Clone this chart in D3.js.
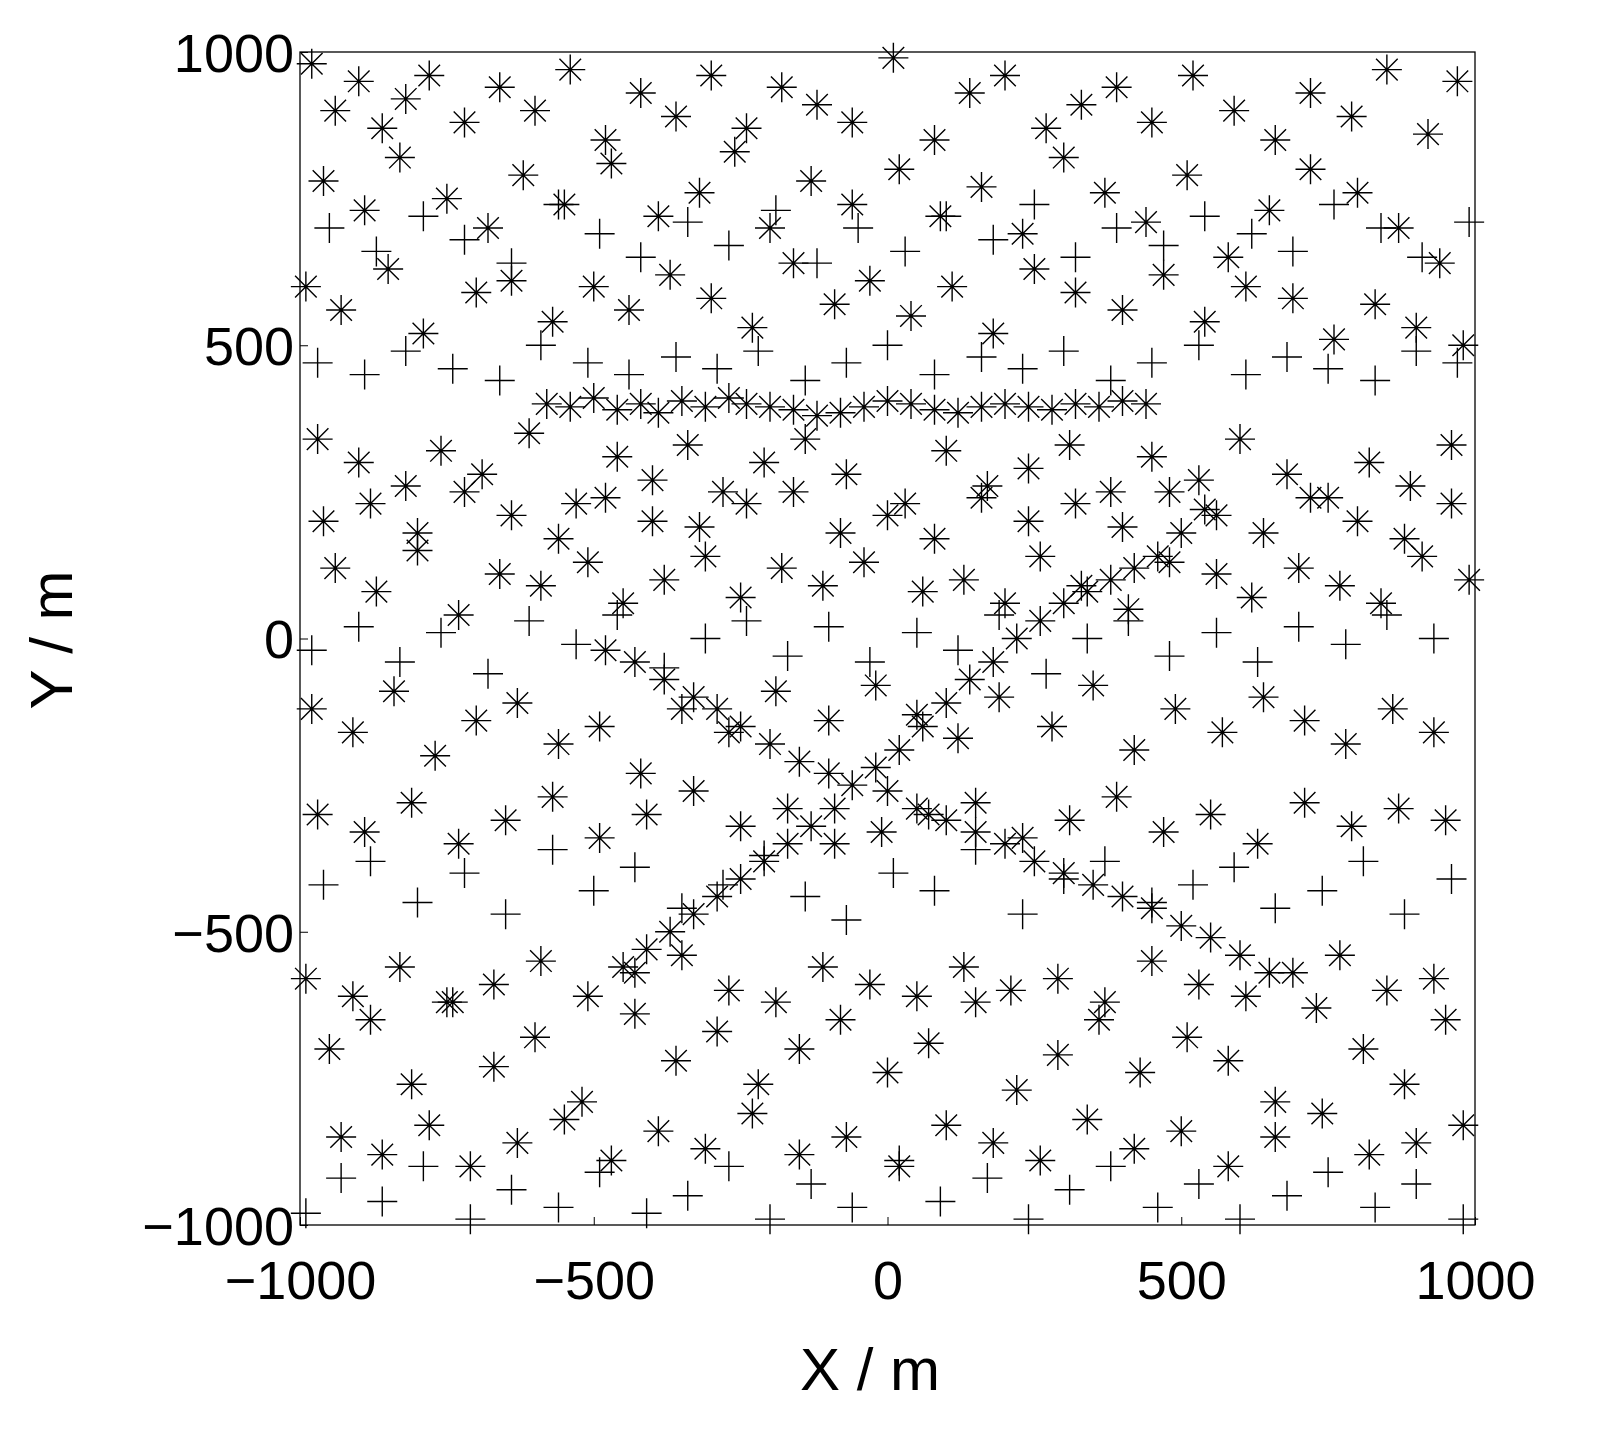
<!DOCTYPE html>
<html><head><meta charset="utf-8">
<script src="https://cdn.jsdelivr.net/npm/d3@7"></script>
<style>body{margin:0;background:#fff}text{font-family:"Liberation Sans",Arial,sans-serif;fill:#000}</style>
</head><body><svg id="c" width="1603" height="1451"></svg>
<script>
// asterisk markers (x, y in metres)
var starX = [-580,-540,-500,-460,-420,-390,-350,-310,-270,-240,-200,-160,-120,-80,-40,0,40,80,120,160,200,240,280,320,360,400,440,
  -480,-430,-380,-330,-290,-250,-200,-150,-100,-60,
  -20,20,60,100,140,180,220,260,300,340,380,420,460,500,540,
  -450,-410,-370,-330,-290,-250,-210,-170,-130,-90,
  0,50,100,150,200,250,300,350,400,450,500,550,600,650,
  -980,-940,-900,-860,-820,-780,-720,-660,-600,-540,-480,-420,-360,-300,-240,-180,-120,-60,10,80,140,200,270,330,390,450,520,590,660,720,790,850,920,970,
  -960,-890,-830,-750,-680,-620,-550,-470,-390,-320,-260,-200,-130,-60,20,90,160,230,300,370,440,510,580,650,720,800,870,940,
  -990,-930,-850,-790,-700,-640,-570,-500,-440,-370,-300,-230,-160,-90,-30,40,110,180,250,320,400,470,540,610,690,760,830,900,980,
  -970,-900,-820,-760,-690,-610,-530,-460,-400,-340,-280,-210,-140,-70,30,100,170,240,310,380,450,530,600,680,750,820,890,960,
  -940,-870,-800,-730,-660,-590,-510,-450,-380,-310,-250,-180,-110,-40,60,130,200,260,330,410,480,560,620,700,770,840,910,990,
  -980,-910,-840,-770,-700,-630,-560,-490,-420,-350,-270,-190,-100,-20,50,120,190,280,350,420,490,570,640,710,780,860,930,
  -950,-880,-810,-740,-670,-600,-520,-430,-360,-290,-220,-150,-80,0,70,150,220,290,360,430,510,580,660,730,810,880,950,
  -930,-860,-780,-710,-630,-550,-470,-390,-310,-230,-150,-70,20,100,180,260,340,420,500,580,660,740,820,900,980,
  -990,-910,-830,-750,-670,-590,-510,-430,-350,-270,-190,-110,-30,50,130,210,290,370,450,530,610,690,770,850,930,
  -960,-880,-800,-720,-640,-560,-480,-400,-320,-240,-160,-80,0,80,160,240,320,400,480,560,640,720,800,880,960,
  -970,-890,-810,-730,-650,-570,-490,-410,-330,-250,-170,-90,-10,70,150,230,310,390,470,550,630,710,790,870,950],
  starY = [400,395,410,390,400,385,405,395,410,400,395,390,380,385,395,405,400,390,385,395,400,395,390,400,395,405,400,
  -20,-40,-70,-100,-120,-150,-180,-210,-230,-250,
  -220,-190,-150,-110,-70,-40,0,30,60,80,100,120,140,180,220,
  -560,-530,-500,-470,-440,-410,-380,-350,-320,-290,
  -260,-290,-310,-330,-350,-380,-400,-420,-440,-460,-490,-510,-540,-570,
  980,900,950,870,920,960,880,940,900,970,850,930,890,960,870,940,910,880,990,850,930,960,870,910,940,880,960,900,850,930,890,970,860,950,
  780,730,820,750,700,790,740,810,720,760,830,700,780,740,800,720,770,690,820,760,710,790,650,730,800,760,700,640,
  600,560,630,520,590,610,540,600,560,620,580,530,640,570,610,550,600,520,630,590,560,620,540,600,580,510,570,530,500,
  340,300,260,320,280,350,230,310,270,330,250,300,340,280,230,320,260,290,330,250,310,270,340,280,240,300,260,330,
  120,80,150,40,110,90,130,60,100,140,70,120,90,130,80,100,60,140,90,50,130,110,70,120,90,60,140,100,
  -120,-160,-90,-200,-140,-110,-180,-150,-230,-120,-160,-90,-140,-80,-130,-170,-100,-150,-80,-190,-120,-160,-100,-140,-180,-120,-160,
  -700,-650,-760,-620,-730,-680,-790,-640,-720,-670,-760,-700,-650,-740,-690,-620,-770,-710,-650,-740,-680,-720,-790,-630,-700,-760,-650,
  -850,-880,-830,-900,-860,-820,-890,-840,-870,-810,-880,-850,-900,-830,-860,-890,-820,-870,-840,-900,-850,-810,-880,-860,-830,
  -580,-610,-560,-620,-590,-550,-610,-570,-540,-600,-620,-560,-590,-610,-560,-600,-580,-620,-550,-590,-610,-570,-540,-600,-580,
  200,230,180,250,210,170,240,200,190,230,250,180,210,170,240,200,230,190,250,210,180,240,200,170,230,
  -300,-330,-280,-350,-310,-270,-340,-300,-260,-320,-290,-350,-330,-300,-280,-340,-310,-270,-330,-300,-350,-280,-320,-290,-310],
  // plus markers
  plusX = [-990,-930,-860,-790,-710,-640,-560,-490,-410,-340,-270,-200,-130,-60,20,90,170,240,310,380,460,530,600,680,750,830,900,980,
  -960,-880,-800,-720,-650,-570,-500,-430,-350,-280,-210,-140,-70,10,80,150,230,300,370,450,520,590,660,740,810,880,960,
  -980,-900,-830,-760,-680,-610,-530,-460,-380,-310,-240,-170,-100,-30,50,120,190,270,340,410,480,560,630,700,780,850,930,
  -950,-870,-790,-720,-640,-560,-490,-420,-340,-270,-190,-120,-50,30,100,180,250,320,390,470,540,620,690,760,840,910,990,
  -970,-890,-820,-740,-660,-590,-510,-440,-360,-290,-220,-140,-70,0,80,160,230,300,380,450,530,610,680,750,830,900,970],
  plusY = [-980,-920,-960,-900,-990,-940,-970,-910,-980,-950,-900,-990,-930,-970,-890,-960,-920,-990,-940,-900,-970,-930,-990,-950,-910,-970,-930,-990,
  -420,-380,-450,-400,-470,-360,-430,-390,-460,-420,-370,-440,-480,-400,-430,-360,-470,-410,-380,-450,-420,-390,-460,-430,-380,-470,-410,
  -20,20,-40,10,-60,30,-10,40,-50,0,30,-30,20,-40,10,-20,40,-60,0,30,-30,10,-40,20,-10,40,0,
  700,660,720,680,640,740,690,650,710,670,730,640,700,660,720,680,740,650,700,670,720,690,660,740,700,650,710,
  470,450,490,460,440,500,470,450,480,460,490,440,470,500,450,480,460,490,440,470,500,450,480,460,440,490,470];

var L = 300, R = 1475, T = 52, B = 1225;
var svg = d3.select('#c');
var x = d3.scaleLinear().domain([-1000, 1000]).range([L, R]),
    y = d3.scaleLinear().domain([-1000, 1000]).range([B, T]);
var s = 15;

var g = svg.append('g').attr('stroke', '#000').attr('stroke-width', 1.4).attr('fill', 'none');
starX.forEach(function(v, i) {
  var cx = x(v), cy = y(starY[i]), d = s * 0.72;
  g.append('path').attr('d', 'M' + (cx - s) + ',' + cy + 'H' + (cx + s) + 'M' + cx + ',' + (cy - s) + 'V' + (cy + s) +
    'M' + (cx - d) + ',' + (cy - d) + 'L' + (cx + d) + ',' + (cy + d) + 'M' + (cx - d) + ',' + (cy + d) + 'L' + (cx + d) + ',' + (cy - d));
});
plusX.forEach(function(v, i) {
  var cx = x(v), cy = y(plusY[i]);
  g.append('path').attr('d', 'M' + (cx - s) + ',' + cy + 'H' + (cx + s) + 'M' + cx + ',' + (cy - s) + 'V' + (cy + s));
});

svg.append('rect').attr('x', L).attr('y', T).attr('width', R - L).attr('height', B - T)
  .attr('fill', 'none').attr('stroke', '#000').attr('stroke-width', 1.3);

var ticks = [-1000, -500, 0, 500, 1000], fmt = d3.format('d');
var xa = svg.append('g').attr('transform', 'translate(0,' + B + ')')
  .call(d3.axisBottom(x).tickValues(ticks).tickFormat(fmt).tickSizeInner(-8).tickSizeOuter(0).tickPadding(36));
var ya = svg.append('g').attr('transform', 'translate(' + L + ',0)')
  .call(d3.axisLeft(y).tickValues(ticks).tickFormat(fmt).tickSizeInner(-8).tickSizeOuter(0).tickPadding(6));
[xa, ya].forEach(function(a) {
  a.select('.domain').remove();
  a.selectAll('text').attr('font-size', 54).attr('font-family', '"Liberation Sans",Arial,sans-serif');
});
ya.selectAll('text').attr('dy', '0.36em');

svg.append('text').attr('x', 870).attr('y', 1390).attr('text-anchor', 'middle')
  .attr('font-size', 60).text('X / m');
svg.append('text').attr('transform', 'translate(72,640) rotate(-90)').attr('text-anchor', 'middle')
  .attr('font-size', 60).text('Y / m');
</script></body></html>
